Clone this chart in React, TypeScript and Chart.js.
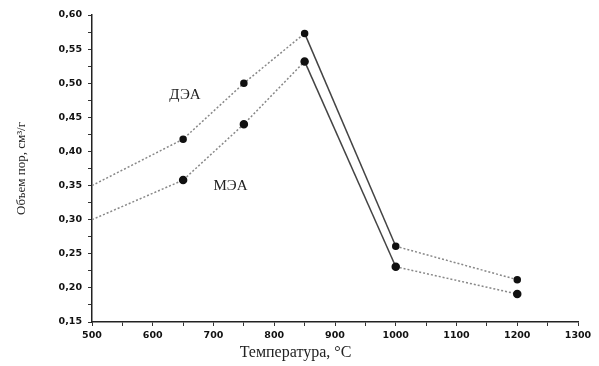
import React, { useEffect, useRef } from "react";
import { Chart, registerables } from "chart.js";
Chart.register(...registerables);

const temps = [500, 650, 750, 850, 1000, 1200];
const dea = [0.35, 0.418, 0.50, 0.573, 0.261, 0.212];
const mea = [0.30, 0.358, 0.44, 0.532, 0.231, 0.191];
const seriesNames = ["ДЭА", "МЭА"];
const labelX = [653, 728];
const labelY = [0.482, 0.349];
const xTitle = "Температура, °С";
const yTitle = "Объем пор, см³/г";

const inlineLabels = {
  id: "inlineLabels",
  afterDatasetsDraw(chart: any) {
    const { ctx, scales } = chart;
    ctx.save();
    ctx.fillStyle = "#222";
    ctx.font = "15px 'Liberation Serif', serif";
    ctx.textAlign = "center";
    ctx.textBaseline = "middle";
    seriesNames.forEach((n, i) => {
      ctx.fillText(n, scales.x.getPixelForValue(labelX[i]), scales.y.getPixelForValue(labelY[i]));
    });
    ctx.font = "16px 'Liberation Serif', serif";
    ctx.fillText(xTitle, scales.x.getPixelForValue(835), scales.x.bottom - 13);
    ctx.restore();
  },
};

export default function App() {
  const ref = useRef<HTMLCanvasElement>(null);
  useEffect(() => {
    document.body.style.margin = "0";
    const seg = {
      borderDash: (c: any) => (c.p1.parsed.y < c.p0.parsed.y - 0.1 ? [] : [2, 2]),
      borderColor: (c: any) => (c.p1.parsed.y < c.p0.parsed.y - 0.1 ? "#444" : "#888"),
    };
    const tickFont = { family: "'DejaVu Sans', sans-serif", size: 9.5, weight: "bold" as const };
    const chart = new Chart(ref.current!, {
      type: "line",
      data: {
        datasets: [
          {
            label: seriesNames[0],
            data: temps.map((t, i) => ({ x: t, y: dea[i] })),
            borderColor: "#888",
            borderWidth: 1.5,
            pointBackgroundColor: "#111",
            pointBorderColor: "#111",
            pointRadius: (c: any) => (c.dataIndex === 0 ? 0 : 3),
            pointStyle: "circle",
            segment: seg,
          },
          {
            label: seriesNames[1],
            data: temps.map((t, i) => ({ x: t, y: mea[i] })),
            borderColor: "#888",
            borderWidth: 1.5,
            pointBackgroundColor: "#111",
            pointBorderColor: "#111",
            pointRadius: (c: any) => (c.dataIndex === 0 ? 0 : 3.5),
            pointStyle: "circle",
            segment: seg,
          },
        ],
      },
      options: {
        animation: false,
        responsive: false,
        layout: { padding: { top: 15, right: 21, left: 0, bottom: 0 } },
        plugins: { legend: { display: false }, tooltip: { enabled: false } },
        scales: {
          x: {
            type: "linear",
            min: 500,
            max: 1300,
            afterBuildTicks: (s: any) => {
              const t = [];
              for (let v = 500; v <= 1300; v += 50) t.push({ value: v });
              s.ticks = t;
            },
            ticks: {
              autoSkip: false,
              maxRotation: 0,
              color: "#111",
              font: tickFont,
              padding: 4,
              callback: (v: any) => (v % 100 === 0 ? String(v) : ""),
            },
            grid: { drawOnChartArea: false, drawTicks: true, tickLength: 4, color: "#333" },
            border: { color: "#222", width: 1.5 },
            afterFit: (s: any) => { s.height = 44; },
          },
          y: {
            min: 0.15,
            max: 0.6,
            afterBuildTicks: (s: any) => {
              const t = [];
              for (let k = 0; k <= 18; k++) t.push({ value: 0.15 + k * 0.025 });
              s.ticks = t;
            },
            ticks: {
              autoSkip: false,
              color: "#111",
              font: tickFont,
              padding: 6,
              callback: (v: any) => {
                const k = Math.round((v - 0.15) / 0.025);
                return k % 2 === 0 ? v.toFixed(2).replace(".", ",") : "";
              },
            },
            grid: { drawOnChartArea: false, drawTicks: true, tickLength: 4, color: "#333" },
            border: { color: "#222", width: 1.5 },
            title: {
              display: true,
              text: yTitle,
              color: "#222",
              font: { family: "'Liberation Serif', serif", size: 13 },
              padding: { top: 14, bottom: 0 },
            },
            afterFit: (s: any) => { s.width = 92; },
          },
        },
      },
      plugins: [inlineLabels],
    });
    return () => chart.destroy();
  }, []);
  return (
    <div style={{ position: "fixed", left: 0, top: 0, width: 599, height: 366, background: "#fff" }}>
      <canvas ref={ref} width={599} height={366} style={{ display: "block" }} />
    </div>
  );
}
